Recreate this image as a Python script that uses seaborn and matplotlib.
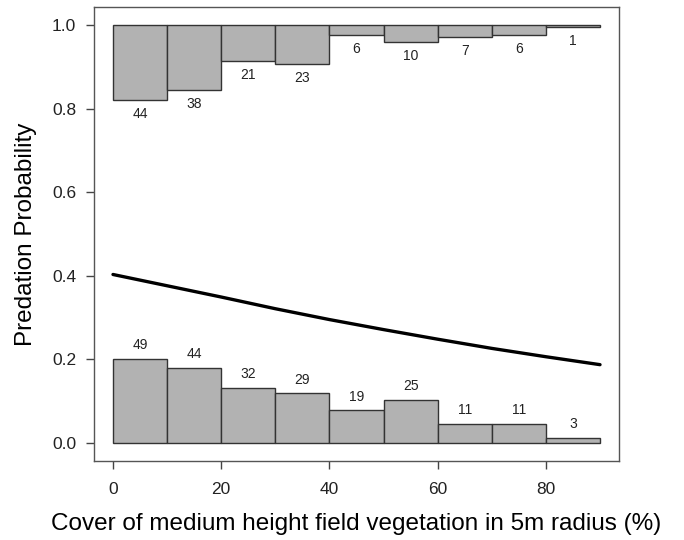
import numpy as np
import pandas as pd
import matplotlib
matplotlib.use("Agg")
import matplotlib.pyplot as plt
import seaborn as sns

# Data
bin_left = [0, 10, 20, 30, 40, 50, 60, 70, 80]
bin_width = 10
count_top = [44, 38, 21, 23, 6, 10, 7, 6, 1]      # predated (y = 1)
count_bottom = [49, 44, 32, 29, 19, 25, 11, 11, 3]  # not predated (y = 0)
curve_x = [0, 10, 20, 30, 40, 50, 60, 70, 80, 90]
curve_y = [0.403, 0.376, 0.349, 0.321, 0.295, 0.271, 0.248, 0.226, 0.206, 0.187]
y_ticks = [0.0, 0.2, 0.4, 0.6, 0.8, 1.0]
x_ticks = [0, 20, 40, 60, 80]

sns.set_style("white")
plt.rcParams['font.family'] = ['Liberation Sans', 'DejaVu Sans']

fig = plt.figure(figsize=(6.84, 5.40), dpi=100)
ax = fig.add_axes([0.1367, 0.1467, 0.7690, 0.8400])

scale = 0.2 / max(max(count_top), max(count_bottom))
h_top = [c * scale for c in count_top]
h_bot = [c * scale for c in count_bottom]

fill = "#B2B2B2"
edge = "#333333"
ax.bar(bin_left, h_top, width=bin_width, bottom=[1 - h for h in h_top], align="edge",
       color=fill, edgecolor=edge, linewidth=1.0, zorder=2)
ax.bar(bin_left, h_bot, width=bin_width, bottom=0, align="edge",
       color=fill, edgecolor=edge, linewidth=1.0, zorder=2)

centers = [b + bin_width / 2 for b in bin_left]
off = 0.033
for xc, h, c in zip(centers, h_top, count_top):
    ax.text(xc, 1 - h - off, str(c), ha="center", va="center", fontsize=10, color="#222222")
for xc, h, c in zip(centers, h_bot, count_bottom):
    ax.text(xc, h + off, str(c), ha="center", va="center", fontsize=10, color="#222222")

df = pd.DataFrame({"x": curve_x, "p": curve_y})
sns.lineplot(data=df, x="x", y="p", ax=ax, color="black", linewidth=2.4, zorder=3)

ax.set_xlim(-3.6, 93.6)
ax.set_ylim(-0.0432, 1.0432)
ax.set_xticks(x_ticks)
ax.set_yticks(y_ticks)
ax.set_yticklabels([f"{v:.1f}" for v in y_ticks])
ax.tick_params(axis="both", direction="out", length=6, width=1, color="#444444",
               labelsize=12.5, labelcolor="#222222", left=True, bottom=True)
ax.tick_params(axis="x", pad=9)
ax.tick_params(axis="y", pad=6.5)
for s in ax.spines.values():
    s.set_color("#555555")
    s.set_linewidth(1.0)
ax.set_xlabel("Cover of medium height field vegetation in 5m radius (%)", fontsize=17.5,
              color="black")
ax.set_ylabel("Predation Probability", fontsize=17.5, color="black")
ax.xaxis.set_label_coords(0.5, -0.139)
ax.yaxis.set_label_coords(-0.128, 0.5)
ax.xaxis.label.set_va("center")
ax.yaxis.label.set_va("center")

fig.savefig("out.png", dpi=100)
